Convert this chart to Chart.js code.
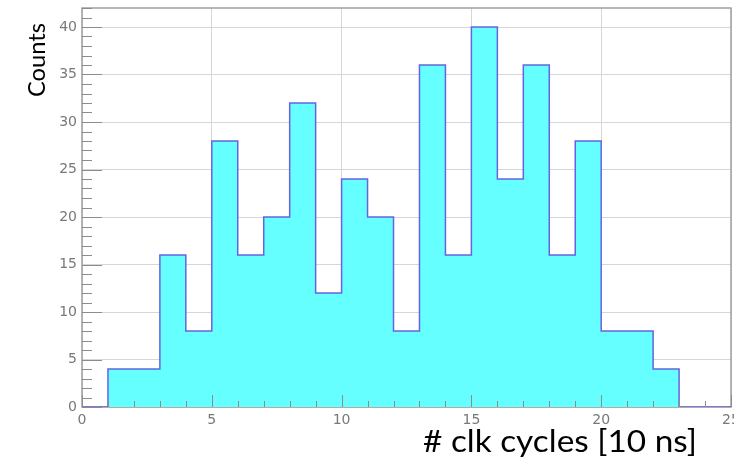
<!DOCTYPE html>
<html>
<head>
<meta charset="utf-8">
<script src="https://cdn.jsdelivr.net/npm/chart.js@4/dist/chart.umd.min.js"></script>
<style>
  html, body { margin: 0; padding: 0; background: #ffffff; }
  #wrap { width: 734px; height: 462px; }
</style>
</head>
<body>
<div id="wrap"><canvas id="c" width="734" height="462"></canvas></div>
<script>
// Histogram of clock-cycle counts, one bin per cycle (lower bin edges below)
const binLow = [0, 1, 2, 3, 4, 5, 6, 7, 8, 9, 10, 11, 12, 13, 14, 15, 16, 17, 18, 19, 20, 21, 22, 23, 24];
const counts = [0, 4, 4, 16, 8, 28, 16, 20, 32, 12, 24, 20, 8, 36, 16, 40, 24, 36, 16, 28, 8, 8, 4, 0, 0];
const binWidth = 1;
const xRange = [0, 25];
const yRange = [0, 42];
const majorStep = 5;
const xTitle = '# clk cycles [10 ns]';
const yTitle = 'Counts';

// step outline: each bin value holds from its lower edge to the next edge
const stepPoints = counts.map((c, i) => ({ x: binLow[i], y: c }));
stepPoints.push({ x: binLow[binLow.length - 1] + binWidth, y: counts[counts.length - 1] });

const FRAME = '#a0a0a0';
const TICK = '#8c8c8c';

// frame around the plot area, drawn under the histogram
const framePlugin = {
  id: 'frame',
  beforeDatasetsDraw(chart) {
    const a = chart.chartArea, ctx = chart.ctx;
    ctx.save();
    ctx.strokeStyle = FRAME;
    ctx.lineWidth = 1.5;
    ctx.strokeRect(a.left, a.top, a.right - a.left, a.bottom - a.top);
    ctx.restore();
  }
};

// inward minor/major tick marks, drawn on top of the histogram
const tickPlugin = {
  id: 'innerTicks',
  afterDatasetsDraw(chart) {
    const a = chart.chartArea, ctx = chart.ctx;
    const xs = chart.scales.x, ys = chart.scales.y;
    ctx.save();
    ctx.strokeStyle = TICK;
    ctx.lineWidth = 1;
    ctx.beginPath();
    for (let v = xRange[0]; v <= xRange[1]; v++) {
      const px = Math.round(xs.getPixelForValue(v)) + 0.5;
      const len = v % majorStep === 0 ? 12 : 6;
      ctx.moveTo(px, a.bottom);
      ctx.lineTo(px, a.bottom - len);
    }
    for (let v = yRange[0]; v <= yRange[1]; v++) {
      const py = Math.round(ys.getPixelForValue(v)) + 0.5;
      const len = v % majorStep === 0 ? 20 : 10;
      ctx.moveTo(a.left, py);
      ctx.lineTo(a.left + len, py);
    }
    ctx.stroke();
    ctx.restore();
  }
};

// axis titles, set in a humanist face and stretched to their drawn widths
const titlePlugin = {
  id: 'axisTitles',
  afterDraw(chart) {
    const ctx = chart.ctx;
    ctx.save();
    ctx.fillStyle = '#000000';
    ctx.font = '30px Lato';
    ctx.textBaseline = 'alphabetic';
    ctx.textAlign = 'left';
    let w = ctx.measureText(xTitle).width;
    ctx.translate(423, 452);
    ctx.scale(274 / w, 1);
    ctx.fillText(xTitle, 0, 0);
    ctx.restore();

    ctx.save();
    ctx.fillStyle = '#000000';
    ctx.font = '23px Lato';
    ctx.textBaseline = 'alphabetic';
    ctx.textAlign = 'center';
    w = ctx.measureText(yTitle).width;
    ctx.translate(45, 60);
    ctx.rotate(-Math.PI / 2);
    ctx.scale(74 / w, 1);
    ctx.fillText(yTitle, 0, 0);
    ctx.restore();
  }
};

const tickFont = { family: 'DejaVu Sans', size: 14 };

new Chart(document.getElementById('c'), {
  type: 'line',
  data: {
    datasets: [{
      data: stepPoints,
      stepped: 'before',
      fill: 'origin',
      backgroundColor: '#66ffff',
      borderColor: '#6464e0',
      borderWidth: 1.5,
      pointRadius: 0,
      pointHoverRadius: 0
    }]
  },
  options: {
    responsive: false,
    animation: false,
    layout: { padding: { top: 8, right: 3, left: 0, bottom: 0 } },
    plugins: { legend: { display: false }, tooltip: { enabled: false } },
    scales: {
      x: {
        type: 'linear',
        min: xRange[0],
        max: xRange[1],
        ticks: { stepSize: majorStep, color: '#787878', font: tickFont, padding: 5, maxRotation: 0 },
        grid: { color: '#d6d6d6', lineWidth: 1, drawTicks: false },
        border: { display: false },
        afterFit(s) { s.height = 55; s.paddingLeft = 0; s.paddingRight = 0; }
      },
      y: {
        type: 'linear',
        min: yRange[0],
        max: yRange[1],
        ticks: { stepSize: majorStep, color: '#787878', font: tickFont, padding: 5 },
        grid: { color: '#d6d6d6', lineWidth: 1, drawTicks: false },
        border: { display: false },
        afterBuildTicks(s) { s.ticks = s.ticks.filter(t => t.value % majorStep === 0); },
        afterFit(s) { s.width = 82; s.paddingTop = 0; s.paddingBottom = 0; }
      }
    }
  },
  plugins: [framePlugin, tickPlugin, titlePlugin]
});
</script>
</body>
</html>
